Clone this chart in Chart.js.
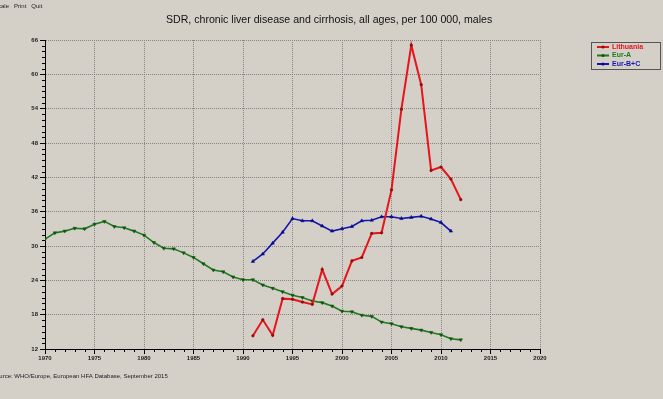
<!DOCTYPE html>
<html>
<head>
<meta charset="utf-8">
<script src="https://cdn.jsdelivr.net/npm/chart.js@4/dist/chart.umd.min.js"></script>
<style>
  html, body { margin: 0; padding: 0; background: #d4d0c8; overflow: hidden; }
  canvas { display: block; }
</style>
</head>
<body>
<canvas id="sdrChart" width="663" height="399"></canvas>
<script>
const titleText = 'SDR, chronic liver disease and cirrhosis, all ages, per 100 000, males';
const sourceText = 'Source: WHO/Europe, European HFA Database, September 2015';
const menuItems = ['Scale', 'Print', 'Quit'];

const seriesNames = ['Lithuania', 'Eur-A', 'Eur-B+C'];

const ltYears = [1991, 1992, 1993, 1994, 1995, 1996, 1997, 1998, 1999, 2000, 2001, 2002,
    2003, 2004, 2005, 2006, 2007, 2008, 2009, 2010, 2011, 2012];
const ltValues = [14.3, 17.1, 14.4, 20.8, 20.7, 20.2, 19.8, 25.9, 21.6, 23.0, 27.4, 28.0,
    32.2, 32.3, 39.8, 53.9, 65.1, 58.2, 43.2, 43.8, 41.7, 38.1];

const euaYears = [1970, 1971, 1972, 1973, 1974, 1975, 1976, 1977, 1978, 1979, 1980, 1981,
    1982, 1983, 1984, 1985, 1986, 1987, 1988, 1989, 1990, 1991, 1992, 1993, 1994, 1995,
    1996, 1997, 1998, 1999, 2000, 2001, 2002, 2003, 2004, 2005, 2006, 2007, 2008, 2009,
    2010, 2011, 2012];
const euaValues = [31.2, 32.3, 32.6, 33.1, 33.0, 33.8, 34.3, 33.4, 33.2, 32.6, 31.9, 30.6,
    29.6, 29.5, 28.8, 28.0, 26.9, 25.8, 25.5, 24.6, 24.1, 24.1, 23.2, 22.6, 22.0, 21.4,
    21.0, 20.4, 20.1, 19.5, 18.6, 18.5, 17.9, 17.7, 16.7, 16.4, 15.9, 15.6, 15.3, 14.9,
    14.5, 13.8, 13.6];

const eubcYears = [1991, 1992, 1993, 1994, 1995, 1996, 1997, 1998, 1999, 2000, 2001, 2002,
    2003, 2004, 2005, 2006, 2007, 2008, 2009, 2010, 2011];
const eubcValues = [27.3, 28.6, 30.5, 32.4, 34.8, 34.4, 34.4, 33.5, 32.6, 33.0, 33.4, 34.4,
    34.5, 35.1, 35.1, 34.8, 35.0, 35.2, 34.7, 34.1, 32.6];

const xMin = 1970, xMax = 2020, xStep = 5;
const yMin = 12, yMax = 66, yStep = 6;

function toPoints(xs, ys) {
    return xs.map((x, i) => ({ x: x, y: ys[i] }));
}

// minor ticks, title, menu text, source line and the boxed legend
const decorPlugin = {
    id: 'decor',
    afterDraw(chart) {
        const c = chart.ctx;
        const xs = chart.scales.x, ys = chart.scales.y;
        const area = chart.chartArea;
        c.save();
        c.strokeStyle = '#000';
        c.lineWidth = 1;
        c.beginPath();
        for (let yr = xMin; yr <= xMax; yr++) {
            if (yr % xStep === 0) continue;
            const px = Math.round(xs.getPixelForValue(yr)) + 0.5;
            c.moveTo(px, area.bottom);
            c.lineTo(px, area.bottom + 3);
        }
        for (let v = yMin; v <= yMax; v++) {
            if ((v - yMin) % yStep === 0) continue;
            const py = Math.round(ys.getPixelForValue(v)) + 0.5;
            c.moveTo(area.left - 3, py);
            c.lineTo(area.left, py);
        }
        c.stroke();

        c.fillStyle = '#111';
        c.font = '10.6px "Liberation Sans", Arial, sans-serif';
        c.textAlign = 'left';
        c.textBaseline = 'middle';
        c.fillText(titleText, 166, 20);

        c.font = '6px "Liberation Sans", Arial, sans-serif';
        c.fillStyle = '#222';
        c.fillText(menuItems.join('   '), -6, 6);
        c.fillText(sourceText, -8, 376);

        // legend
        const lx = 591, ly = 42, lw = 69, lh = 27;
        c.strokeStyle = '#555';
        c.strokeRect(lx + 0.5, ly + 0.5, lw, lh);
        c.font = 'bold 7px "Liberation Sans", Arial, sans-serif';
        chart.data.datasets.forEach((ds, i) => {
            const yy = ly + 5 + i * 8.5;
            c.strokeStyle = ds.borderColor;
            c.lineWidth = 2;
            c.beginPath();
            c.moveTo(lx + 6, yy);
            c.lineTo(lx + 18, yy);
            c.stroke();
            c.fillStyle = ds.pointBackgroundColor;
            c.beginPath();
            c.arc(lx + 12, yy, 1.6, 0, Math.PI * 2);
            c.fill();
            c.fillStyle = ds.borderColor;
            c.fillText(ds.label, lx + 21, yy);
        });
        c.restore();
    }
};

new Chart(document.getElementById('sdrChart').getContext('2d'), {
    type: 'line',
    data: {
        datasets: [{
            label: seriesNames[0],
            data: toPoints(ltYears, ltValues),
            borderColor: '#e8141c',
            backgroundColor: '#e8141c',
            pointBackgroundColor: '#8a1010',
            pointBorderColor: '#8a1010',
            pointStyle: 'circle',
            pointRadius: 1.3,
            pointBorderWidth: 0.5,
            borderWidth: 2
        }, {
            label: seriesNames[1],
            data: toPoints(euaYears, euaValues),
            borderColor: '#1f7a1f',
            backgroundColor: '#1f7a1f',
            pointBackgroundColor: '#145214',
            pointBorderColor: '#145214',
            pointStyle: 'triangle',
            pointRotation: 180,
            pointRadius: 2,
            pointBorderWidth: 0.5,
            borderWidth: 1.6
        }, {
            label: seriesNames[2],
            data: toPoints(eubcYears, eubcValues),
            borderColor: '#1414b4',
            backgroundColor: '#1414b4',
            pointBackgroundColor: '#0c0c80',
            pointBorderColor: '#0c0c80',
            pointStyle: 'triangle',
            pointRadius: 2,
            pointBorderWidth: 0.5,
            borderWidth: 1.6
        }]
    },
    options: {
        responsive: false,
        animation: false,
        layout: { padding: { left: 0, top: 40, right: 123, bottom: 0 } },
        scales: {
            x: {
                type: 'linear',
                min: xMin,
                max: xMax,
                afterFit: scale => { scale.height = 50; },
                ticks: {
                    stepSize: xStep,
                    callback: v => String(v),
                    color: '#222',
                    padding: 1,
                    maxRotation: 0,
                    font: { family: '"Liberation Sans", Arial', size: 6, weight: 'bold' }
                },
                grid: { color: '#86847f', tickColor: '#000', tickLength: 5, lineWidth: 1 },
                border: { display: true, color: '#000', dash: [1, 1] }
            },
            y: {
                min: yMin,
                max: yMax,
                afterFit: scale => { scale.width = 45; },
                ticks: {
                    stepSize: yStep,
                    color: '#222',
                    padding: 2,
                    font: { family: '"Liberation Sans", Arial', size: 6, weight: 'bold' }
                },
                grid: { color: '#86847f', tickColor: '#000', tickLength: 5, lineWidth: 1 },
                border: { display: true, color: '#000', dash: [1, 1] }
            }
        },
        plugins: {
            legend: { display: false },
            title: { display: false },
            tooltip: { enabled: false }
        }
    },
    plugins: [decorPlugin]
});
</script>
</body>
</html>
